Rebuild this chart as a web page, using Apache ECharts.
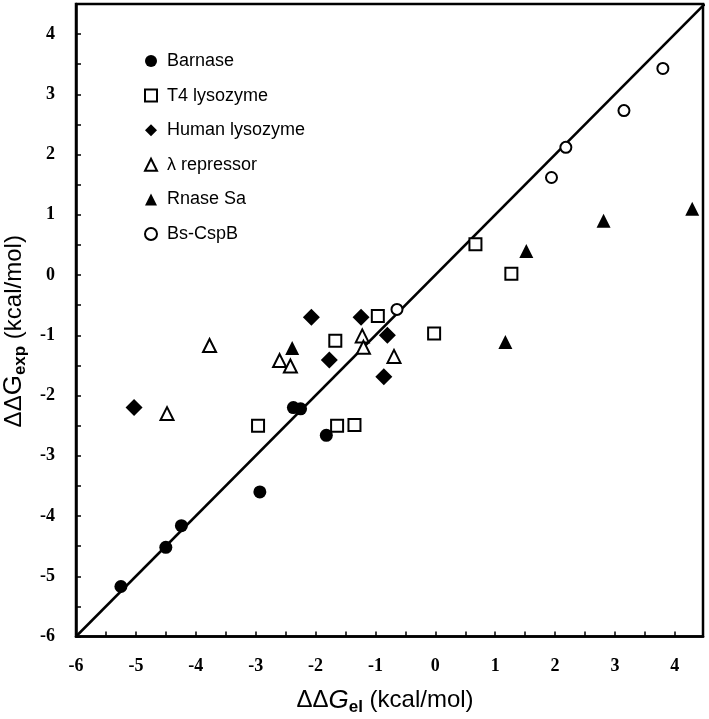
<!DOCTYPE html>
<html><head><meta charset="utf-8">
<script src="https://cdn.jsdelivr.net/npm/echarts@6/dist/echarts.min.js"></script>
<style>html,body{margin:0;padding:0;background:#fff}#c{width:709px;height:719px}</style>
</head><body><div id="c"></div>
<script>
const seriesNames = ['Barnase', 'T4 lysozyme', 'Human lysozyme', '\u03bb repressor', 'Rnase Sa', 'Bs-CspB'];
const barnaseX = [-5.25, -4.50, -4.24, -2.93, -2.37, -2.25, -1.82];
const barnaseY = [-5.17, -4.52, -4.16, -3.60, -2.20, -2.22, -2.66];
const t4X = [-2.96, -1.64, -1.35, -1.67, -0.96, -0.02, 0.67, 1.27];
const t4Y = [-2.50, -2.50, -2.49, -1.09, -0.68, -0.97, 0.51, 0.02];
const humanX = [-5.03, -2.07, -1.24, -1.77, -0.80, -0.86];
const humanY = [-2.20, -0.70, -0.70, -1.41, -1.00, -1.69];
const lambdaX = [-4.48, -3.77, -2.60, -2.42, -1.22, -1.20, -0.69];
const lambdaY = [-2.30, -1.17, -1.42, -1.51, -1.01, -1.20, -1.35];
const rnaseX = [-2.39, 1.17, 1.52, 2.81, 4.29];
const rnaseY = [-1.21, -1.11, 0.40, 0.90, 1.10];
const bsX = [-0.64, 1.94, 2.18, 3.15, 3.80];
const bsY = [-0.57, 1.62, 2.12, 2.73, 3.43];
const diagX = [-6, 4.5];
const diagY = [-6, 4.5];

const zip = (xs, ys) => xs.map((x, i) => [x, ys[i]]);
const filled = {color: '#000', borderColor: '#000', borderWidth: 0, opacity: 1};
const open = {color: '#fff', borderColor: '#000', borderWidth: 2, opacity: 1};
const styles = [
  {symbol: 'circle', size: 13, item: filled, x: barnaseX, y: barnaseY},
  {symbol: 'rect', size: 12, item: open, x: t4X, y: t4Y},
  {symbol: 'diamond', size: 17, item: filled, x: humanX, y: humanY},
  {symbol: 'triangle', size: 13, item: open, x: lambdaX, y: lambdaY},
  {symbol: 'triangle', size: 14, item: filled, x: rnaseX, y: rnaseY},
  {symbol: 'circle', size: 11, item: open, x: bsX, y: bsY}
];

const chart = echarts.init(document.getElementById('c'), null, {renderer: 'canvas'});
const tickFont = {color: '#000', fontFamily: 'Liberation Serif', fontWeight: 'bold', fontSize: 18};
const intOnly = v => (Math.abs(v - Math.round(v)) < 1e-9 ? String(Math.round(v)) : '');
const axisCommon = {
  type: 'value', interval: 1, splitLine: {show: false},
  axisLine: {show: true, onZero: false, lineStyle: {color: '#000', width: 2.5}},
  axisTick: {show: true, inside: true, length: 5, lineStyle: {color: '#000', width: 1.5}},
  minorTick: {show: true, splitNumber: 2, length: 5, lineStyle: {color: '#000', width: 1.5}},
  axisLabel: Object.assign({formatter: intOnly, margin: 21}, tickFont)
};
const richTitle = italicG => ({
  d: {fontFamily: 'Liberation Sans', fontSize: 24, color: '#000', lineHeight: 28},
  g: {fontFamily: 'Liberation Sans', fontSize: 26, fontStyle: italicG ? 'italic' : 'normal', color: '#000', lineHeight: 28},
  s: {fontFamily: 'Liberation Sans', fontSize: 17, fontWeight: 'bold', color: '#000', lineHeight: 28, padding: [13, 0, 0, 0]}
});
const series = styles.map((s, i) => ({
  name: seriesNames[i], type: 'scatter', symbol: s.symbol, symbolSize: s.size,
  itemStyle: s.item, data: zip(s.x, s.y), z: 3
}));
series.unshift({
  name: 'diag', type: 'line', data: zip(diagX, diagY), showSymbol: false, symbol: 'none',
  lineStyle: {color: '#000', width: 2.5}, clip: true, silent: true, z: 2
});
chart.setOption({
  animation: false,
  grid: {left: 76, top: 4, width: 627, height: 632.5, show: true, borderColor: '#000', borderWidth: 2.5,
         containLabel: false, outerBoundsMode: 'none'},
  xAxis: Object.assign({}, axisCommon, {
    min: -6, max: 4.47,
    name: '{d|\u0394\u0394}{g|G}{s|el}  {d|(kcal/mol)}',
    nameLocation: 'middle', nameGap: 50,
    nameTextStyle: {padding: [0, 9, 0, 0], rich: richTitle(true)}
  }),
  yAxis: Object.assign({}, axisCommon, {
    min: -6, max: 4.5,
    name: '{d|\u0394\u0394}{g|G}{s|exp}  {d|(kcal/mol)}',
    nameLocation: 'middle', nameGap: 36,
    nameTextStyle: {padding: [0, 22, 0, 0], rich: richTitle(false)}
  }),
  legend: {
    data: seriesNames, orient: 'vertical', left: 139, top: 47,
    itemWidth: 12, itemHeight: 12, itemGap: 16.6,
    textStyle: {fontFamily: 'Liberation Sans', fontSize: 18, color: '#000', lineHeight: 18, padding: [0, 0, 0, 5]}
  },
  series: series
});
</script></body></html>
